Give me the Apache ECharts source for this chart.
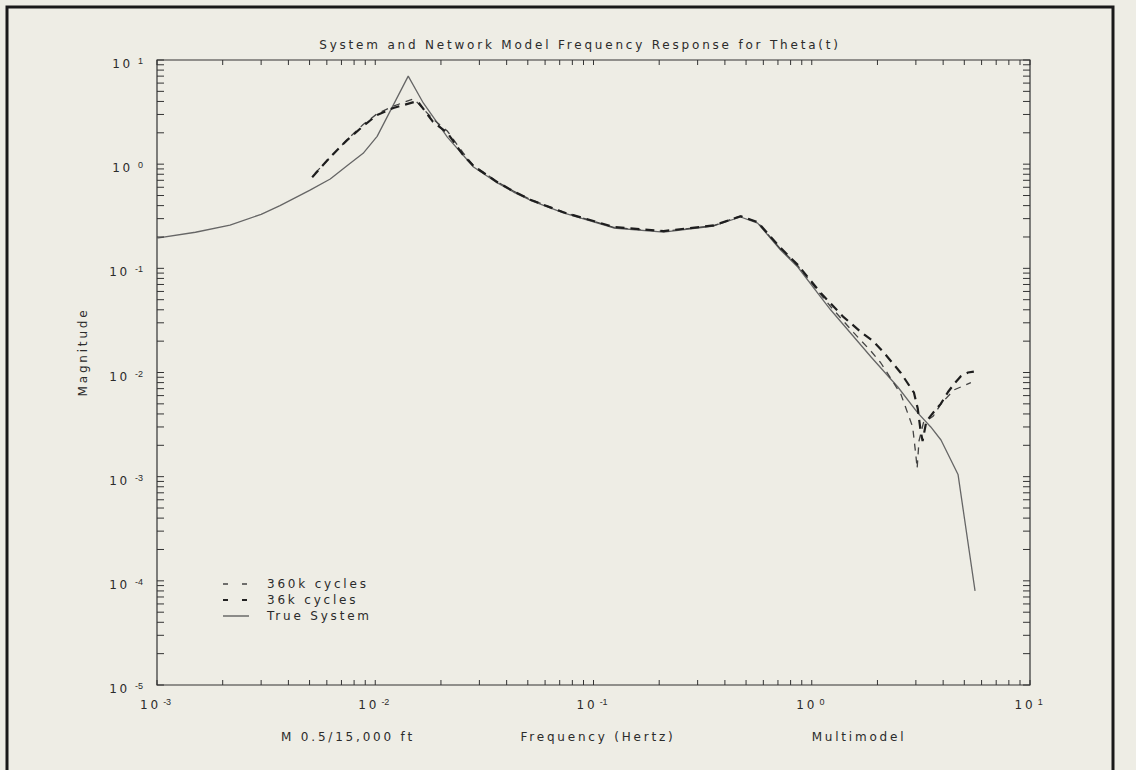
<!DOCTYPE html>
<html>
<head>
<meta charset="utf-8">
<script src="https://cdn.jsdelivr.net/npm/echarts@6/dist/echarts.min.js"></script>
<style>
html,body{margin:0;padding:0;background:#eeede5;}
#chart{width:1136px;height:770px;}
#chart text[style*="DejaVu Sans"], #chart text[font-family*="DejaVu Sans"]{letter-spacing:2.8px;}
</style>
</head>
<body>
<div id="chart"></div>
<script>
// ---- data ----
const trueFreq = [0.001, 0.0015, 0.00216, 0.003, 0.00366, 0.005, 0.00622, 0.0075, 0.0088, 0.0102, 0.01416, 0.0166, 0.0214, 0.0282, 0.0363, 0.043, 0.0514, 0.0728, 0.1236, 0.2095, 0.355, 0.472, 0.565, 0.72, 0.863, 1.10, 1.22, 1.87, 2.48, 3.06, 3.51, 3.91, 4.68, 5.6];
const trueMag  = [0.195, 0.222, 0.26, 0.33, 0.40, 0.56, 0.72, 0.98, 1.27, 1.85, 7.0, 3.87, 1.82, 0.94, 0.66, 0.54, 0.45, 0.34, 0.244, 0.223, 0.255, 0.311, 0.272, 0.15, 0.103, 0.053, 0.040, 0.0141, 0.00726, 0.0041, 0.0030, 0.00225, 0.00105, 0.00008];

const net36Freq = [0.00514, 0.00622, 0.00745, 0.0088, 0.0102, 0.0121, 0.0156, 0.0184, 0.0214, 0.0253, 0.0282, 0.0363, 0.043, 0.0514, 0.0728, 0.1236, 0.2095, 0.355, 0.472, 0.565, 0.72, 0.863, 1.10, 1.22, 1.40, 1.68, 1.91, 2.14, 2.56, 2.94, 3.06, 3.15, 3.22, 3.35, 3.63, 3.90, 4.21, 4.50, 4.82, 5.2, 5.53];
const net36Mag  = [0.75, 1.17, 1.71, 2.32, 2.97, 3.46, 4.04, 2.55, 2.0, 1.22, 0.96, 0.67, 0.55, 0.455, 0.345, 0.25, 0.228, 0.258, 0.316, 0.278, 0.157, 0.108, 0.058, 0.046, 0.034, 0.0245, 0.020, 0.0155, 0.0099, 0.0064, 0.0045, 0.0028, 0.0022, 0.0034, 0.0042, 0.0050, 0.0065, 0.0078, 0.0092, 0.0100, 0.0102];

const net360Freq = [0.0053, 0.0062, 0.0075, 0.0088, 0.0102, 0.0121, 0.0150, 0.0184, 0.0214, 0.0253, 0.0282, 0.0363, 0.043, 0.0514, 0.0728, 0.1236, 0.2095, 0.355, 0.472, 0.565, 0.72, 0.863, 1.10, 1.22, 1.56, 1.87, 2.07, 2.56, 2.90, 3.00, 3.04, 3.10, 3.25, 3.6, 3.91, 4.48, 5.0, 5.36];
const net360Mag  = [0.82, 1.15, 1.75, 2.4, 3.05, 3.6, 4.25, 2.7, 2.08, 1.28, 0.97, 0.675, 0.552, 0.458, 0.347, 0.247, 0.226, 0.257, 0.318, 0.276, 0.153, 0.106, 0.056, 0.043, 0.024, 0.0160, 0.0124, 0.0062, 0.0030, 0.0016, 0.0012, 0.0022, 0.0033, 0.0038, 0.0050, 0.0068, 0.0075, 0.0080];

const seriesNames = ['360k cycles', '36k cycles', 'True System'];
const xDecades = [0.001, 0.01, 0.1, 1];          // x tick decades (ticks at 1..9 x decade)
const yDecades = [0.00001, 0.0001, 0.001, 0.01, 0.1, 1];
const minorMultipliers = [1, 2, 3, 4, 5, 6, 7, 8, 9];
const xMax = 10, yMax = 10;

const titleText = 'System and Network Model Frequency Response for Theta(t)';
const xAxisTitle = 'Frequency (Hertz)';
const yAxisTitle = 'Magnitude';
const leftCaption = 'M 0.5/15,000 ft';
const rightCaption = 'Multimodel';

// ---- helpers ----
const zip = (a, b) => a.map((v, i) => [v, b[i]]);
const xTicks = [];
xDecades.forEach(d => minorMultipliers.forEach(m => xTicks.push(d * m)));
xTicks.push(xMax);
const yTicks = [];
yDecades.forEach(d => minorMultipliers.forEach(m => yTicks.push(d * m)));
yTicks.push(yMax);

const TXT = '#2b2b2b';
const FONT = 'DejaVu Sans';

function powLabel(v) {
  const e = Math.round(Math.log10(v));
  return '{b|10}{s|' + e + '}';
}
const labelRich = {
  b: {fontSize: 12, fontFamily: FONT, color: TXT, lineHeight: 15},
  s: {fontSize: 9, fontFamily: 'Liberation Sans', color: TXT, lineHeight: 9, verticalAlign: 'top', padding: [0, 0, 0, 5]}
};

function tickSeries(values, isX) {
  return {
    type: 'custom', name: isX ? 'xticks' : 'yticks', silent: true, z: 5, clip: false,
    data: values.map(v => isX ? [v, 1] : [1, v]),
    renderItem: (params, api) => {
      const cs = params.coordSys;
      const p = api.coord([api.value(0), api.value(1)]);
      const st = {stroke: '#333', lineWidth: 1};
      if (isX) {
        const x = p[0], L = 5;
        return {type: 'group', children: [
          {type: 'line', shape: {x1: x, y1: cs.y + cs.height, x2: x, y2: cs.y + cs.height - L}, style: st},
          {type: 'line', shape: {x1: x, y1: cs.y, x2: x, y2: cs.y + L}, style: st}
        ]};
      } else {
        const y = p[1], L = 7;
        return {type: 'group', children: [
          {type: 'line', shape: {x1: cs.x, y1: y, x2: cs.x + L, y2: y}, style: st},
          {type: 'line', shape: {x1: cs.x + cs.width, y1: y, x2: cs.x + cs.width - L, y2: y}, style: st}
        ]};
      }
    }
  };
}

const hiddenSymbol = {color: 'rgba(0,0,0,0)', borderWidth: 0, opacity: 0};

const chart = echarts.init(document.getElementById('chart'), null, {renderer: 'svg'});
chart.setOption({
  animation: false,
  backgroundColor: '#eeede5',
  grid: {left: 157, top: 60, width: 873, height: 625, show: true, borderColor: '#333', borderWidth: 1.2, backgroundColor: 'transparent'},
  xAxis: {
    type: 'log', logBase: 10, min: 0.001, max: 10, splitNumber: 4,
    axisLine: {show: false}, axisTick: {show: false}, splitLine: {show: false},
    axisLabel: {margin: 12, showMinLabel: true, showMaxLabel: true, formatter: powLabel, rich: labelRich}
  },
  yAxis: {
    type: 'log', logBase: 10, min: 0.00001, max: 10, splitNumber: 6,
    axisLine: {show: false}, axisTick: {show: false}, splitLine: {show: false},
    axisLabel: {margin: 14, showMinLabel: true, showMaxLabel: true, formatter: powLabel, rich: labelRich, padding: [8, 0, 0, 0]}
  },
  legend: {
    orient: 'vertical', left: 217, top: 573, itemWidth: 26, itemHeight: 14, itemGap: 4,
    itemStyle: hiddenSymbol,
    data: [
      {name: seriesNames[0], itemStyle: hiddenSymbol, lineStyle: {type: [5, 14], width: 1.3, color: '#444'}},
      {name: seriesNames[1], itemStyle: hiddenSymbol, lineStyle: {type: [5, 14], width: 2, color: '#222'}},
      {name: seriesNames[2], itemStyle: hiddenSymbol, lineStyle: {type: 'solid', width: 1.3, color: '#555'}}
    ],
    textStyle: {fontFamily: FONT, fontSize: 12, color: TXT, padding: [0, 0, 0, 13]}
  },
  graphic: [
    {type: 'rect', shape: {x: 7, y: 7, width: 1106, height: 820}, style: {fill: 'none', stroke: '#1a1a1a', lineWidth: 3}, silent: true},
    {type: 'text', x: 580, y: 45, style: {text: titleText, fontFamily: FONT, fontSize: 12, fill: TXT, textAlign: 'center', textVerticalAlign: 'middle'}},
    {type: 'text', x: 83, y: 352, rotation: Math.PI / 2, style: {text: yAxisTitle, fontFamily: FONT, fontSize: 12, fill: TXT, textAlign: 'center', textVerticalAlign: 'middle'}},
    {type: 'text', x: 348, y: 737, style: {text: leftCaption, fontFamily: FONT, fontSize: 12, fill: TXT, textAlign: 'center', textVerticalAlign: 'middle'}},
    {type: 'text', x: 598, y: 737, style: {text: xAxisTitle, fontFamily: FONT, fontSize: 12, fill: TXT, textAlign: 'center', textVerticalAlign: 'middle'}},
    {type: 'text', x: 859, y: 737, style: {text: rightCaption, fontFamily: FONT, fontSize: 12, fill: TXT, textAlign: 'center', textVerticalAlign: 'middle'}}
  ],
  series: [
    {name: seriesNames[0], type: 'line', symbol: 'none', z: 3, color: '#444', data: zip(net360Freq, net360Mag),
     lineStyle: {color: '#444', width: 1.3, type: [7, 6]}},
    {name: seriesNames[1], type: 'line', symbol: 'none', z: 4, color: '#1e1e1e', data: zip(net36Freq, net36Mag),
     lineStyle: {color: '#1e1e1e', width: 2.2, type: [9, 6]}},
    {name: seriesNames[2], type: 'line', symbol: 'none', z: 2, color: '#666', data: zip(trueFreq, trueMag),
     lineStyle: {color: '#666', width: 1.3, type: 'solid'}},
    tickSeries(xTicks, true),
    tickSeries(yTicks, false)
  ]
});
</script>
</body>
</html>
